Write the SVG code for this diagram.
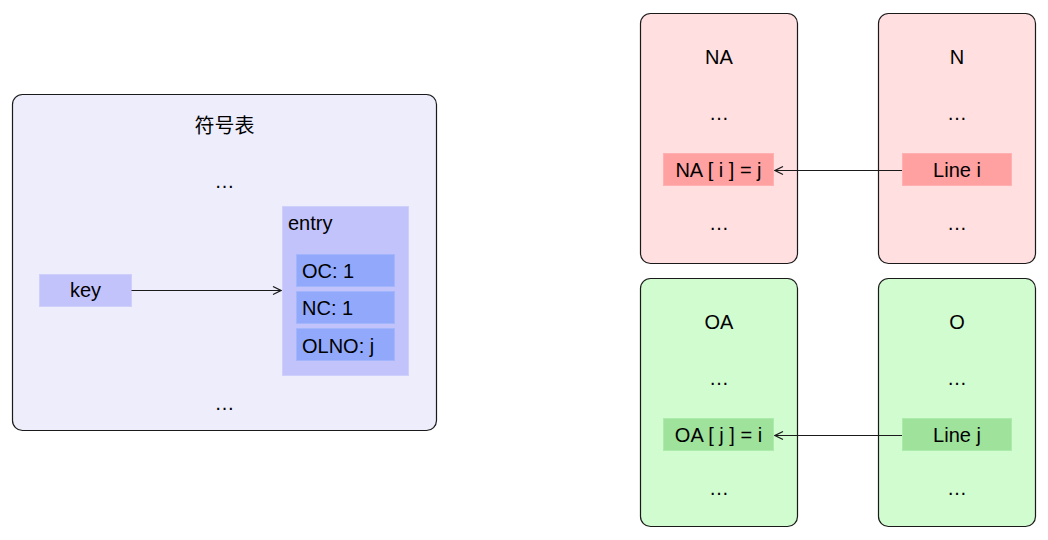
<svg xmlns="http://www.w3.org/2000/svg" width="1048" height="540" viewBox="0 0 1048 540">
<style>
text{font-family:"Liberation Sans","Noto Sans CJK SC",Arial,sans-serif;font-size:20px;fill:#000}
.c{text-anchor:middle}
.frame{stroke:#1a1a1a;stroke-width:1.2}
.lav{fill:#ededfc}
.pink{fill:#ffdfdf}
.green{fill:#d0fcd0}
.entry{fill:#c3c3fb;stroke:#cfcffc;stroke-width:1}
.cell{fill:#91a8fb;stroke:#a3b5fb;stroke-width:1}
.pc{fill:#ffa1a1;stroke:#ffb0b0;stroke-width:1}
.gc{fill:#9ee29c;stroke:#acecaa;stroke-width:1}
.conn{fill:none;stroke:#1a1a1a;stroke-width:1.2;marker-end:url(#arr)}
</style>
<defs>
<marker id="arr" viewBox="0 0 10 10" refX="9" refY="5" markerWidth="10" markerHeight="10" markerUnits="userSpaceOnUse" orient="auto">
<path d="M1,1 L9,5 L1,9" fill="none" stroke="#1a1a1a" stroke-width="1.2"/>
</marker>
</defs>
<rect width="1048" height="540" fill="#ffffff"/>
<g id="symtab">
<rect class="frame lav" x="12.5" y="94.5" width="424" height="336" rx="10"/>
<text class="c" x="224.5" y="133">符号表</text>
<text class="c" x="224.5" y="188">…</text>
<text class="c" x="224.5" y="410">…</text>
</g>
<g id="key">
<rect class="entry" x="39.5" y="274.5" width="92" height="32"/>
<text class="c" x="85.5" y="297">key</text>
</g>
<g id="entry">
<rect class="entry" x="282.5" y="206.5" width="126" height="169"/>
<text x="288" y="230">entry</text>
<rect class="cell" x="296.5" y="254.5" width="98" height="32"/>
<text x="302" y="278">OC: 1</text>
<rect class="cell" x="296.5" y="291.5" width="98" height="32"/>
<text x="302" y="315">NC: 1</text>
<rect class="cell" x="296.5" y="328.5" width="98" height="32"/>
<text x="302" y="353">OLNO: j</text>
</g>
<g id="NA">
<rect class="frame pink" x="640.5" y="13.5" width="157" height="250" rx="10"/>
<text class="c" x="719" y="64">NA</text>
<text class="c" x="719" y="120">…</text>
<rect class="pc" x="663.5" y="153.5" width="110" height="32"/>
<text class="c" x="718.5" y="177">NA [ i ] = j</text>
<text class="c" x="719" y="230">…</text>
</g>
<g id="N">
<rect class="frame pink" x="878.5" y="13.5" width="157" height="250" rx="10"/>
<text class="c" x="957" y="64">N</text>
<text class="c" x="957" y="120">…</text>
<rect class="pc" x="902.5" y="153.5" width="109" height="32"/>
<text class="c" x="957" y="177">Line i</text>
<text class="c" x="957" y="230">…</text>
</g>
<g id="OA">
<rect class="frame green" x="640.5" y="278.5" width="157" height="248" rx="10"/>
<text class="c" x="719" y="329">OA</text>
<text class="c" x="719" y="385">…</text>
<rect class="gc" x="663.5" y="418.5" width="110" height="32"/>
<text class="c" x="718.5" y="442">OA [ j ] = i</text>
<text class="c" x="719" y="495">…</text>
</g>
<g id="O">
<rect class="frame green" x="878.5" y="278.5" width="157" height="248" rx="10"/>
<text class="c" x="957" y="329">O</text>
<text class="c" x="957" y="385">…</text>
<rect class="gc" x="902.5" y="418.5" width="109" height="32"/>
<text class="c" x="957" y="442">Line j</text>
<text class="c" x="957" y="495">…</text>
</g>
<g id="connectors">
<path class="conn" d="M131.5,290.5 L281,290.5"/>
<path class="conn" d="M902,170.5 L775,170.5"/>
<path class="conn" d="M902,435.5 L775,435.5"/>
</g>
</svg>
